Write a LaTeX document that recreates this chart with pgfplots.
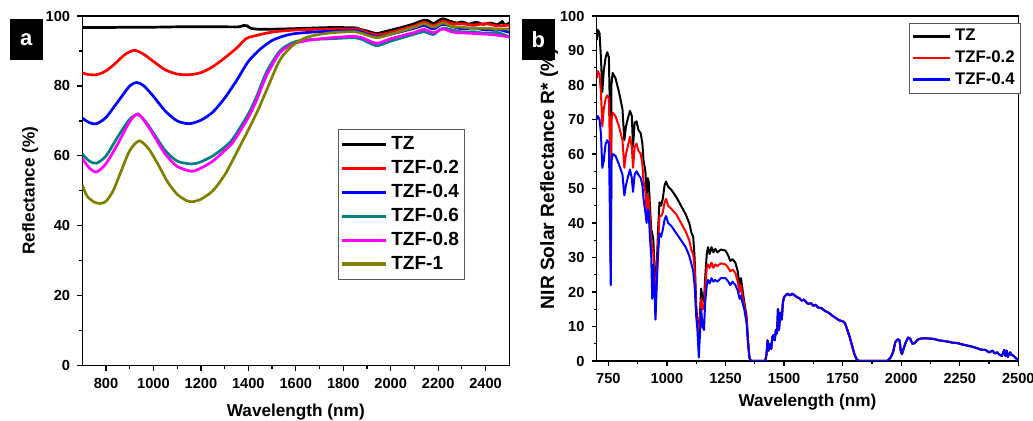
\documentclass[border=0pt]{standalone}
\usepackage{pgfplots}
\pgfplotsset{compat=1.18}
\usepackage{pgfplotstable}
\usepackage{fontspec}
\setmainfont{Liberation Sans}
\definecolor{cteal}{RGB}{0,128,128}
\definecolor{colive}{RGB}{128,128,0}
\definecolor{cmag}{RGB}{255,0,255}

% ---------- panel a data ----------
\pgfplotstableread{
x y
700 96.7
800 96.7
900 96.8
1000 96.8
1100 96.9
1200 96.9
1300 96.9
1360 96.9
1380 97.3
1395 97.2
1410 96.5
1450 96.2
1550 96.3
1650 96.5
1750 96.7
1850 96.6
1870 96.2
1900 95.7
1940 95.0
1980 95.6
2050 96.8
2100 97.8
2140 98.8
2160 98.6
2180 97.8
2200 98.6
2220 99.2
2250 98.5
2280 98.0
2300 98.3
2330 97.7
2360 98.2
2390 97.6
2420 98.0
2450 97.5
2470 98.4
2480 97.4
2500 98.0
}\aTZ
\pgfplotstableread{
x y
700 83.8
720 83.3
760 83.2
800 84.3
840 86.5
880 89.0
920 90.2
960 89.0
1000 87.0
1050 84.6
1100 83.4
1150 83.2
1200 83.8
1250 85.5
1300 88.0
1350 90.8
1390 93.5
1420 94.2
1500 95.4
1600 96.0
1700 96.2
1850 96.3
1880 95.8
1940 94.6
2000 95.3
2100 97.2
2140 98.2
2180 97.2
2220 98.5
2260 97.8
2300 97.8
2350 97.4
2400 97.8
2450 97.2
2500 97.4
}\aTZFa
\pgfplotstableread{
x y
700 70.8
730 69.5
760 69.2
800 71.0
850 75.5
900 80.0
930 81.0
960 80.0
1000 77.0
1050 72.8
1100 70.0
1150 69.2
1200 70.2
1250 72.5
1300 76.5
1350 81.5
1400 87.0
1450 90.5
1500 93.0
1550 94.3
1600 95.0
1700 95.5
1850 95.8
1880 95.3
1940 94.0
2000 94.8
2100 96.5
2140 97.3
2180 96.3
2220 97.6
2300 96.3
2350 96.6
2400 96.0
2450 96.2
2500 95.3
}\aTZFb
\pgfplotstableread{
x y
700 60.5
730 58.5
760 57.9
800 60.0
850 65.5
900 70.5
935 71.8
970 69.5
1000 66.5
1050 61.5
1100 58.5
1160 57.7
1200 58.3
1250 60.0
1300 62.5
1336 65.0
1400 72.0
1435 77.0
1477 84.0
1533 90.0
1590 92.5
1650 93.2
1750 93.5
1850 93.8
1880 93.3
1940 91.5
2000 92.8
2100 94.8
2140 95.5
2180 94.7
2220 96.5
2300 95.4
2350 95.5
2400 95.0
2450 95.3
2500 94.0
}\aTZFc
\pgfplotstableread{
x y
700 59.3
730 56.5
760 55.4
800 57.8
850 63.5
900 69.8
935 72.0
970 69.2
1000 66.0
1050 60.5
1100 57.0
1160 55.6
1200 56.5
1250 58.5
1300 61.5
1336 64.0
1400 71.0
1435 76.0
1477 83.0
1533 89.5
1590 92.0
1650 93.0
1750 93.8
1850 94.2
1880 93.8
1940 92.2
2000 93.5
2100 95.3
2140 96.2
2180 95.2
2220 96.3
2260 95.4
2300 95.2
2350 95.0
2400 94.8
2450 94.5
2500 94.0
}\aTZFd
\pgfplotstableread{
x y
700 51.7
720 48.5
750 46.8
775 46.4
800 47.0
830 50.0
860 55.0
900 61.5
940 64.3
980 62.0
1020 57.5
1060 52.5
1100 49.0
1140 47.2
1164 46.9
1200 47.6
1250 50.0
1300 54.5
1336 59.0
1370 63.5
1400 67.4
1440 73.0
1477 78.8
1533 87.4
1589 91.7
1650 94.0
1750 95.2
1850 95.5
1880 95.0
1940 93.8
2000 94.8
2100 96.8
2140 97.8
2180 96.8
2220 98.0
2260 97.0
2300 96.8
2350 96.5
2400 96.5
2450 96.3
2500 96.3
}\aTZFe

% ---------- panel b data ----------
\pgfplotstableread{
x tz r2 r4
700 93 82 70
705 96 84 71
712 95 83 70
718 88 78 66
724 78 68 56
730 84 73 58
738 88 76 63
745 89.5 77 64
752 88 76 63
757 70 60 40
760 30 26 22
763 80 70 58
768 83.5 72 60
780 82 71 59.5
795 78 68 57
810 73 64 54
818 64 56 48
825 68 60 51
832 70 62 53
842 72.5 65 55.5
850 71 62 53
855 62 56 49
862 69 62 54
870 69.5 63 55
878 67 61 54
888 66 60 53
895 63 57 51
900 58 52 47
908 55 49 43
913 48 44 40
918 53 48 44
922 52 47 43
928 44 40 35
933 38 35 30
937 37 33 18
942 35 31 28
948 25 22 18
951 15 13 12
955 25 22 20
962 38 34 31
968 46 42 37
975 45 42 36
982 47 43 38
990 51 46 41
996 52 47 42
1005 50.5 45 40
1020 49.5 44 39
1040 47.5 42.5 37
1060 45 40 35
1080 42.5 37.5 33
1095 40 35 30.5
1105 37 32 28
1112 36 31 26
1118 30 27 22
1125 16 14 13
1130 11 10 9
1136 8 7 1
1141 14 12 8
1146 21 18 15
1152 18 15 10
1158 17 15 9
1163 24 21 17
1170 31 27 22
1175 33 28 23.5
1182 31 27 22.5
1190 33 28.5 24
1198 31.5 27 23
1206 32.5 28 23.5
1215 31.5 27.5 23
1230 32.3 28.3 24
1250 32 28 24
1262 30.5 27 23
1270 29 26 22
1280 29.5 26.5 23
1292 28.5 25.5 22
1302 26 23 20.5
1310 22 20 18
1316 24 22 19
1322 21 19 17
1330 17 16 15
1340 13 12 11
1346 6 6 5
1352 1 1 1
1358 0 0 0
}\bA
\pgfplotstableread{
x y
1358 0
1420 0
1425 2
1430 6
1434 3
1440 5
1445 3.5
1450 7
1455 7.5
1460 6
1465 9
1470 8
1474 15
1478 9
1484 14
1490 12
1495 17
1500 18.5
1506 19
1515 19.5
1525 19
1535 19.5
1545 19
1555 18.5
1565 18.2
1575 17.5
1585 17.8
1595 17
1605 16.5
1615 16.8
1625 16
1635 16.3
1645 15.5
1660 15.3
1675 14.5
1690 14
1705 13.2
1720 12.5
1735 11.8
1750 11.5
1760 11
1770 9
1780 7
1790 4.5
1800 2
1810 0.5
1820 0
1940 0
1955 1
1965 2.5
1975 5.5
1985 6.3
1993 6
1998 3
2003 2
2010 3.5
2020 5.5
2030 6.8
2038 6.5
2048 5
2058 5.2
2070 6.2
2085 6.5
2100 6.6
2120 6.5
2140 6.4
2160 6
2180 5.8
2200 5.6
2220 5.3
2240 5.2
2260 4.8
2280 4.5
2300 4.2
2320 3.8
2340 3.3
2360 3.2
2375 2.5
2390 3
2400 2.2
2410 2.5
2420 1.8
2430 1.5
2440 3.2
2445 1.5
2450 3
2455 1.2
2465 2.5
2470 1.8
2480 1.5
2490 0.8
2500 0.2
}\bB

\pgfplotsset{
  common/.style={
    scale only axis,
    enlargelimits=false,
    axis line style={line width=0.7pt},
    tick style={line width=0.6pt, black},
    tick align=outside,
    xtick pos=bottom, ytick pos=left,
    major tick length=2.6pt, minor tick length=1.5pt,
    /pgf/number format/assume math mode=true,
    /pgf/number format/set thousands separator={},
    tick label style={font=\bfseries\fontsize{7.3}{8}\selectfont},
    label style={font=\bfseries\fontsize{8.6}{9}\selectfont},
    legend cell align=left,
  },
}

\begin{document}
\begin{tikzpicture}
\useasboundingbox (0,0) rectangle (516.5pt,210.5pt);
% ---------------- panel a ----------------
\begin{axis}[common,
  at={(41.15pt,27.65pt)}, anchor=south west,
  width=213.5pt, height=174.85pt,
  xmin=700, xmax=2500, ymin=0, ymax=100,
  xtick={800,1000,...,2400}, minor x tick num=1,
  ytick={0,20,...,100}, minor y tick num=1,
  xlabel={Wavelength (nm)}, ylabel={Reflectance (\%)},
  xlabel style={at={(axis description cs:0.5,-0.134)}, anchor=center},
  ylabel style={at={(axis description cs:-0.122,0.5)}, anchor=center},
  legend style={at={(axis description cs:0.598,0.676)}, anchor=north west,
    draw=gray!70!black, line width=0.5pt,
    font=\bfseries\fontsize{9.5}{11}\selectfont,
    inner xsep=1pt, inner ysep=1.5pt, row sep=-0.2pt},
  legend image code/.code={\draw[#1, line width=1.6pt] (0pt,0pt) -- (22pt,0pt);},
  every axis plot/.append style={line width=1.35pt, smooth, tension=0.45},
]
\addplot[black] table[x=x,y=y]{\aTZ};
\addplot[red] table[x=x,y=y]{\aTZFa};
\addplot[blue] table[x=x,y=y]{\aTZFb};
\addplot[cteal] table[x=x,y=y]{\aTZFc};
\addplot[cmag] table[x=x,y=y]{\aTZFd};
\addplot[colive] table[x=x,y=y]{\aTZFe};
\legend{TZ,TZF-0.2,TZF-0.4,TZF-0.6,TZF-0.8,TZF-1}
\end{axis}
% ---------------- panel b ----------------
\begin{axis}[common,
  at={(298.35pt,30pt)}, anchor=south west,
  width=210.8pt, height=172.5pt,
  xmin=700, xmax=2500, ymin=0, ymax=100,
  xtick={750,1000,...,2500}, minor x tick num=1,
  ytick={0,10,...,100}, minor y tick num=1,
  xlabel={Wavelength (nm)}, ylabel={NIR Solar Reflectance R* (\%)},
  ylabel style={at={(axis description cs:-0.1125,0.529)}, anchor=center, font=\bfseries\fontsize{9.6}{10}\selectfont},
  xlabel style={at={(axis description cs:0.5,-0.118)}, anchor=center},
  legend style={at={(axis description cs:0.741,0.981)}, anchor=north west,
    draw=gray!70!black, line width=0.5pt,
    font=\bfseries\fontsize{8.4}{10}\selectfont,
    inner xsep=1pt, inner ysep=1pt, row sep=-0.5pt},
  legend image code/.code={\draw[#1, line width=1.2pt] (0pt,0pt) -- (18.5pt,0pt);},
  every axis plot/.append style={line width=1.0pt, line join=round},
]
\addplot[black] table[x=x,y=tz]{\bA};
\addplot[red] table[x=x,y=r2]{\bA};
\addplot[blue] table[x=x,y=r4]{\bA};
\addplot[black, forget plot] table[x=x,y=y]{\bB};
\addplot[red, forget plot] table[x=x,y=y]{\bB};
\addplot[blue, forget plot] table[x=x,y=y]{\bB};
\legend{TZ,TZF-0.2,TZF-0.4}
\end{axis}
% panel tags
\node[fill=black, text=white, font=\bfseries\fontsize{11}{11}\selectfont,
  minimum width=16.5pt, minimum height=20.8pt, inner sep=0pt, anchor=north west]
  at (4.65pt,201.35pt) {a};
\node[fill=black, text=white, font=\bfseries\fontsize{11}{11}\selectfont,
  minimum width=16.3pt, minimum height=20.8pt, inner sep=0pt, anchor=north west]
  at (260.85pt,201.35pt) {b};
\end{tikzpicture}
\end{document}
